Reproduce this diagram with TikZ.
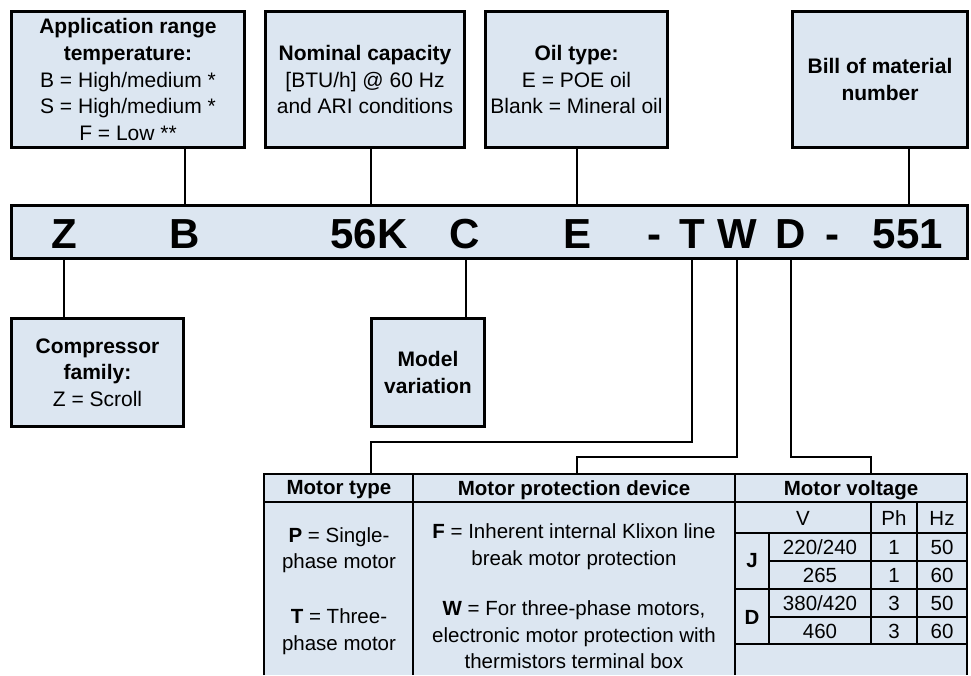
\documentclass[tikz,border=0pt]{standalone}
\usepackage{fontspec}
\setmainfont{Liberation Sans}
\definecolor{boxfill}{HTML}{DCE6F1}
\begin{document}
\begin{tikzpicture}[x=1pt,y=-1pt,
  infobox/.style={draw=black, line width=3pt, fill=boxfill, align=center, inner sep=0pt,
    font=\fontsize{21}{26.7}\selectfont},
  conn/.style={line width=1.3pt},
  codeletter/.style={font=\fontsize{42}{42}\selectfont\bfseries, inner sep=0pt, anchor=base},
  tabtxt/.style={font=\fontsize{20.5}{26.5}\selectfont, inner sep=0pt, align=center},
  tabhead/.style={font=\fontsize{20.5}{26.5}\selectfont\bfseries, inner sep=0pt, align=center},
  thickline/.style={line width=2.5pt},
  midline/.style={line width=2pt},
  thinline/.style={line width=1.3pt}]
\useasboundingbox (0,0) rectangle (971,675);

% top boxes
\node[infobox, minimum width=233pt, minimum height=136pt] (app) at (128,79.5)
  {\textbf{Application range}\\\textbf{temperature:}\\B = High/medium *\\S = High/medium *\\F = Low **};
\node[infobox, minimum width=199pt, minimum height=136pt] (cap) at (365,79.5)
  {\textbf{Nominal capacity}\\{}[BTU/h] @ 60 Hz\\and ARI conditions};
\node[infobox, minimum width=182pt, minimum height=136pt] (oil) at (576.5,79.5)
  {\textbf{Oil type:}\\E = POE oil\\Blank = Mineral oil};
\node[infobox, minimum width=175pt, minimum height=136pt] (bom) at (880,79.5)
  {\textbf{Bill of material}\\\textbf{number}};

% code bar
\node[infobox, minimum width=956pt, minimum height=53pt] (bar) at (489.5,232) {};
\node[codeletter] (Z) at (64,248) {Z};
\node[codeletter] (B) at (185,248) {B};
\node[codeletter] (K) at (369,248) {56K};
\node[codeletter] (C) at (465,248) {C};
\node[codeletter] (E) at (577,248) {E};
\node[codeletter] (h1) at (654,248) {-};
\node[codeletter] (T) at (692,248) {T};
\node[codeletter] (W) at (737,248) {W};
\node[codeletter] (D) at (791,248) {D};
\node[codeletter] (h2) at (832,248) {-};
\node[codeletter] (N) at (908,248) {551};

% bottom boxes
\node[infobox, minimum width=172pt, minimum height=108pt] (fam) at (97.5,372.5)
  {\textbf{Compressor}\\\textbf{family:}\\Z = Scroll};
\node[infobox, minimum width=113pt, minimum height=108pt] (var) at (428,372.5)
  {\textbf{Model}\\\textbf{variation}};

% connectors top
\draw[conn] (app.south -| 185,0) -- (bar.north -| 185,0);
\draw[conn] (cap.south -| 371,0) -- (bar.north -| 371,0);
\draw[conn] (oil.south -| E) -- (bar.north -| E);
\draw[conn] (bom.south -| 909,0) -- (bar.north -| 909,0);
% connectors bottom
\draw[conn] (bar.south -| Z) -- (fam.north -| Z);
\draw[conn] (bar.south -| 466,0) -- (var.north -| 466,0);

% table
\fill[boxfill] (264,474) rectangle (967,675);
\coordinate (tMT) at (371,474);
\coordinate (tMP) at (577,474);
\coordinate (tMV) at (871,474);
\draw[conn] (bar.south -| T) -- (T |- 0,442) -| (tMT);
\draw[conn] (bar.south -| W) -- (W |- 0,457) -| (tMP);
\draw[conn] (bar.south -| D) -- (D |- 0,457) -| (tMV);

\draw[midline] (413,474) -- (413,675);
\draw[midline] (735,474) -- (735,675);
\draw[thinline] (735,533) -- (967,533);
\draw[thinline] (769,561) -- (967,561);
\draw[thinline] (735,589) -- (967,589);
\draw[thinline] (769,617) -- (967,617);
\draw[thinline] (735,644) -- (967,644);
\draw[thinline] (769,533) -- (769,644);
\draw[thinline] (871,502) -- (871,644);
\draw[thinline] (917,502) -- (917,644);
\draw[thickline] (264,502) -- (967,502);
\draw[thickline] (264,675) -- (264,474) -- (967,474) -- (967,675);

\node[tabhead] (hmt) at (339,490) {Motor type};
\node[tabhead] (hmp) at (574,490) {Motor protection device};
\node[tabhead] (hmv) at (851,490) {Motor voltage};

\node[tabtxt] (pP) at (339,550) {\textbf{P} = Single-\\phase motor};
\node[tabtxt] (pT) at (339,631.5) {\textbf{T} = Three-\\phase motor};
\node[tabtxt] (pF) at (574,546.5) {\textbf{F} = Inherent internal Klixon line\\break motor protection};
\node[tabtxt] (pW) at (574,635) {\textbf{W} = For three-phase motors,\\electronic motor protection with\\thermistors terminal box};

\node[tabtxt] (cV) at (803,518) {V};
\node[tabtxt] (cPh) at (894,518) {Ph};
\node[tabtxt] (cHz) at (942,518) {Hz};
\node[tabhead] (rJ) at (752,561) {J};
\node[tabhead] (rD) at (752,617) {D};
\node[tabtxt] (v1) at (820,547) {220/240};
\node[tabtxt] (v2) at (820,575) {265};
\node[tabtxt] (v3) at (820,603) {380/420};
\node[tabtxt] (v4) at (820,631) {460};
\node[tabtxt] (p1) at (894,547) {1};
\node[tabtxt] (p2) at (894,575) {1};
\node[tabtxt] (p3) at (894,603) {3};
\node[tabtxt] (p4) at (894,631) {3};
\node[tabtxt] (f1) at (942,547) {50};
\node[tabtxt] (f2) at (942,575) {60};
\node[tabtxt] (f3) at (942,603) {50};
\node[tabtxt] (f4) at (942,631) {60};
\end{tikzpicture}
\end{document}
